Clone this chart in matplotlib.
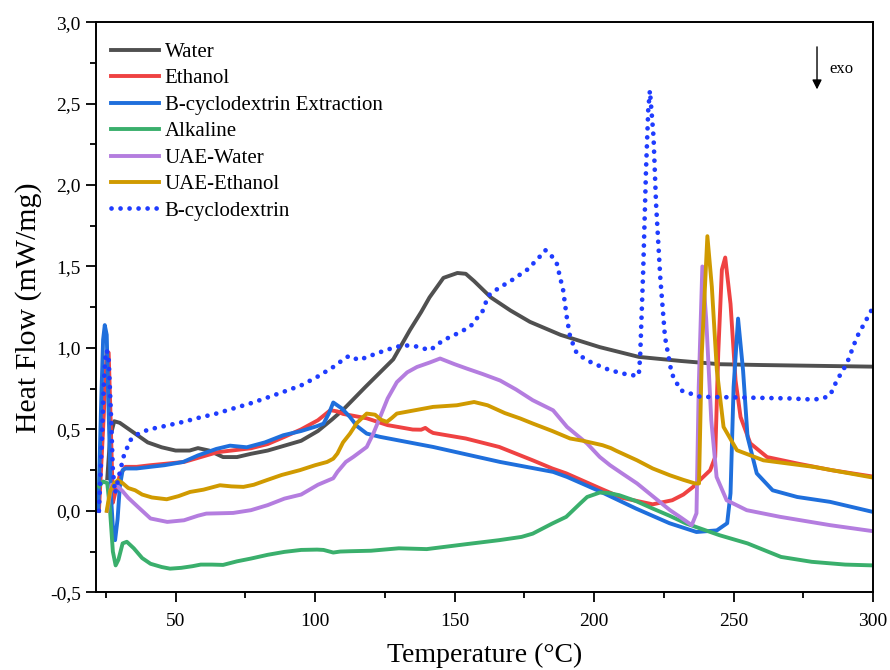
import matplotlib

matplotlib.use("Agg")
import matplotlib.pyplot as plt
from matplotlib.ticker import MultipleLocator, FuncFormatter

plt.rcParams["font.family"] = ["Liberation Serif", "DejaVu Serif"]

# DSC traces, temperature (°C) vs heat flow (mW/mg)
water_t = [25.5, 26.5, 28, 30, 35, 40, 45, 50, 55, 58, 62, 67, 72, 77, 83, 89, 95, 101,
           106, 110, 114, 118, 123, 128, 134, 138, 141, 146, 151, 154, 157, 163, 170,
           177, 188, 202, 216, 231, 245, 260, 280, 300]
water_y = [0.20, 0.45, 0.55, 0.54, 0.48, 0.42, 0.39, 0.37, 0.37, 0.385, 0.37, 0.33, 0.33,
           0.35, 0.37, 0.40, 0.43, 0.49, 0.56, 0.62, 0.69, 0.76, 0.845, 0.93, 1.11, 1.22,
           1.31, 1.43, 1.46, 1.455, 1.41, 1.31, 1.23, 1.16, 1.08, 1.005, 0.945, 0.92,
           0.90, 0.895, 0.89, 0.885]

ethanol_t = [22.5, 24, 25.3, 26.0, 26.8, 27.5, 28.5, 30, 32, 36, 41, 47, 53, 59, 65, 70,
             77, 83, 89, 95, 101, 105.5, 108, 110, 116, 118.5, 126, 135, 138, 139.5, 141,
             142.3, 154, 166, 178, 185, 190, 202, 210, 221, 228, 232, 235.5, 238, 241.6,
             243.4, 244.5, 245.8, 247, 248.9, 250.7, 252.5, 256, 262, 273, 285, 300]
ethanol_y = [0.0, 0.5, 0.98, 0.97, 0.5, 0.05, 0.12, 0.22, 0.27, 0.27, 0.28, 0.29, 0.30,
             0.33, 0.36, 0.37, 0.384, 0.41, 0.454, 0.50, 0.556, 0.618, 0.61, 0.595, 0.576,
             0.568, 0.526, 0.499, 0.498, 0.509, 0.49, 0.478, 0.444, 0.392, 0.31, 0.26,
             0.23, 0.139, 0.08, 0.04, 0.065, 0.1, 0.147, 0.19, 0.249, 0.33, 0.97, 1.48,
             1.555, 1.27, 0.80, 0.576, 0.414, 0.33, 0.29, 0.25, 0.21]

bcd_ext_t = [22.3, 23.2, 24, 24.6, 25.3, 26, 26.8, 27.5, 28.3, 29.2, 30, 31, 32, 36, 40.9,
             46, 52.7, 58, 64.6, 69.5, 75.5, 82, 88.6, 95, 100.7, 103, 105, 106.5, 109.6,
             112.5, 115, 118.5, 123.3, 142.3, 166.3, 185.3, 190.3, 202, 215, 227, 236.7,
             244, 247.7, 248.9, 250, 251.6, 253.4, 255, 258.3, 264, 272.8, 284.6, 300]
bcd_ext_y = [0.0, 0.6, 1.05, 1.14, 1.08, 0.6, 0.1, -0.1, -0.18, -0.05, 0.15, 0.25, 0.26,
             0.26, 0.27, 0.28, 0.30, 0.34, 0.38, 0.40, 0.39, 0.42, 0.464, 0.49, 0.52,
             0.535, 0.60, 0.665, 0.628, 0.576, 0.52, 0.474, 0.454, 0.392, 0.30, 0.239,
             0.208, 0.12, 0.014, -0.076, -0.13, -0.12, -0.076, 0.108, 0.76, 1.18, 0.86,
             0.454, 0.23, 0.126, 0.085, 0.055, -0.007]

alkaline_t = [22.5, 24, 25.5, 26.5, 27.5, 28.5, 29.5, 31, 32.5, 35, 38, 41, 45, 48, 52,
              56, 59, 63, 67, 72, 77, 83, 89, 95, 100.7, 103, 106.5, 109, 112.5, 120,
              130, 140, 154, 166, 174, 178, 185, 190, 195, 197.5, 202, 205, 209, 215,
              221, 227, 233, 240, 245, 255, 267, 278, 290, 300]
alkaline_y = [0.15, 0.18, 0.17, 0.0, -0.25, -0.335, -0.30, -0.20, -0.19, -0.23, -0.29,
              -0.325, -0.345, -0.355, -0.35, -0.34, -0.33, -0.33, -0.332, -0.31, -0.293,
              -0.27, -0.252, -0.24, -0.238, -0.24, -0.256, -0.25, -0.248, -0.245, -0.23,
              -0.235, -0.205, -0.18, -0.16, -0.14, -0.078, -0.037, 0.045, 0.085, 0.112,
              0.11, 0.096, 0.06, 0.014, -0.03, -0.078, -0.12, -0.15, -0.2, -0.283,
              -0.313, -0.33, -0.335]

uae_water_t = [25.5, 27, 28.3, 29.4, 31, 33, 36.5, 41, 47, 53, 58, 61, 66, 70.6, 77, 83,
               89, 95, 101, 106.5, 108, 111, 113.7, 118.5, 121, 123.3, 126, 129.3, 133,
               136.5, 141, 144.8, 150, 154.4, 160, 166.3, 172, 178, 185.3, 190.3, 197.5,
               202, 205.7, 210, 215.4, 221, 227.2, 231, 235, 236.7, 237.5, 238.8, 240.2,
               242, 243.9, 247.5, 254.7, 266.7, 284.6, 300]
uae_water_y = [0.0, 0.16, 0.16, 0.147, 0.12, 0.08, 0.024, -0.047, -0.068, -0.058, -0.03,
               -0.017, -0.015, -0.013, 0.004, 0.035, 0.075, 0.10, 0.16, 0.20, 0.239, 0.3,
               0.331, 0.392, 0.48, 0.576, 0.69, 0.79, 0.85, 0.883, 0.91, 0.935, 0.90,
               0.873, 0.84, 0.80, 0.745, 0.679, 0.617, 0.515, 0.413, 0.331, 0.28, 0.23,
               0.168, 0.09, 0.004, -0.04, -0.088, -0.015, 0.76, 1.50, 1.17, 0.556, 0.208,
               0.065, 0.004, -0.037, -0.088, -0.125]

uae_ethanol_t = [25.3, 26.5, 28, 29.4, 31, 33, 35.5, 38, 41.5, 46.8, 51, 55.2, 60, 65.9,
                 70, 74.3, 78, 82.6, 88, 94.6, 100, 104.3, 106.5, 108, 110, 112.5, 115,
                 118.5, 121.5, 123.5, 125.7, 127.5, 129.3, 135, 142.3, 150.8, 157, 161.8,
                 168, 173.5, 178, 185, 191.4, 196, 203, 206, 208, 215.4, 221, 227.2, 232,
                 236.2, 237.6, 238.6, 240.6, 242.2, 244, 246.4, 251.2, 260.7, 278.6, 300]
uae_ethanol_y = [0.0, 0.12, 0.17, 0.188, 0.17, 0.14, 0.126, 0.10, 0.082, 0.071, 0.09,
                 0.116, 0.13, 0.157, 0.15, 0.147, 0.16, 0.188, 0.22, 0.25, 0.28, 0.30,
                 0.32, 0.352, 0.42, 0.474, 0.54, 0.597, 0.59, 0.56, 0.546, 0.57, 0.597,
                 0.615, 0.638, 0.648, 0.668, 0.648, 0.60, 0.567, 0.536, 0.49, 0.444, 0.43,
                 0.403, 0.385, 0.368, 0.31, 0.26, 0.218, 0.19, 0.168, 0.168, 0.966, 1.686,
                 1.375, 0.863, 0.515, 0.372, 0.31, 0.27, 0.204]

bcd_t = [22.5, 23.5, 24.3, 25, 25.9, 26.8, 27.5, 28.3, 29.5, 31.3, 33.7, 36.7, 40.3, 46,
         52.7, 58, 64.6, 70, 76.7, 82, 88.6, 95, 100.7, 106.5, 111.4, 113, 115.4, 118,
         122, 126, 131.5, 136, 141.2, 145.9, 150, 155.6, 160.2, 162, 166, 170, 176, 180,
         182.5, 184, 186.6, 188.9, 190.2, 191.4, 193.8, 197.4, 199.8, 205.7, 213, 216,
         216.5, 217.6, 218.6, 219.4, 220, 221.3, 222.2, 223.7, 225.4, 227.8, 231, 238,
         254.7, 270, 278.6, 282, 284.6, 287, 290.6, 294.2, 297.8, 300]
bcd_y = [0.0, 0.4, 0.8, 0.985, 0.97, 0.6, 0.25, 0.108, 0.2, 0.331, 0.433, 0.474, 0.499,
         0.52, 0.546, 0.57, 0.597, 0.625, 0.659, 0.69, 0.73, 0.77, 0.822, 0.883, 0.945,
         0.95, 0.925, 0.94, 0.966, 0.99, 1.017, 1.01, 0.986, 1.047, 1.08, 1.13, 1.23, 1.32,
         1.37, 1.41, 1.48, 1.55, 1.6, 1.583, 1.52, 1.354, 1.19, 1.067, 0.966, 0.925, 0.904,
         0.863, 0.832, 0.832, 0.945, 1.477, 2.09, 2.46, 2.58, 2.295, 1.886, 1.436, 1.067,
         0.843, 0.74, 0.70, 0.695, 0.69, 0.683, 0.69, 0.71, 0.80, 0.904, 1.067, 1.18, 1.25]

series = [
    ("Water", water_t, water_y, "#505050"),
    ("Ethanol", ethanol_t, ethanol_y, "#ef4242"),
    ("B-cyclodextrin Extraction", bcd_ext_t, bcd_ext_y, "#1f6fdc"),
    ("Alkaline", alkaline_t, alkaline_y, "#3aaf6c"),
    ("UAE-Water", uae_water_t, uae_water_y, "#b47ddf"),
    ("UAE-Ethanol", uae_ethanol_t, uae_ethanol_y, "#d09a00"),
]

fig = plt.figure(figsize=(8.9, 6.7), dpi=100)
ax = fig.add_axes([0.108, 0.116, 0.873, 0.851])

for name, t, y, color in series:
    ax.plot(t, y, color=color, lw=2.8, label=name, solid_joinstyle="round")
ax.plot(bcd_t, bcd_y, color="#1f3cff", lw=3.4, dashes=(0.01, 1.9),
        dash_capstyle="round", label="B-cyclodextrin")

ax.set_xlim(21.5, 300)
ax.set_ylim(-0.5, 3.0)
ax.xaxis.set_major_locator(MultipleLocator(50))
ax.xaxis.set_minor_locator(MultipleLocator(25))
ax.yaxis.set_major_locator(MultipleLocator(0.5))
ax.yaxis.set_minor_locator(MultipleLocator(0.25))
ax.yaxis.set_major_formatter(FuncFormatter(lambda v, p: f"{v:.1f}".replace(".", ",")))
ax.tick_params(which="major", direction="out", length=7, width=1.3, labelsize=14, pad=4)
ax.tick_params(which="minor", direction="out", length=4, width=1.3)
ax.tick_params(axis="x", pad=8)
for sp in ax.spines.values():
    sp.set_linewidth(1.4)

ax.set_xlabel("Temperature (°C)", fontsize=20, labelpad=9)
ax.set_ylabel("Heat Flow (mW/mg)", fontsize=21.5, labelpad=6)

ax.legend(loc="upper left", frameon=False, fontsize=15, handlelength=2.3,
          handletextpad=0.3, labelspacing=0.33, borderaxespad=0.3,
          bbox_to_anchor=(0.0, 0.99))

# exothermic direction marker
ax.annotate("", xy=(279.9, 2.57), xytext=(279.9, 2.865),
            arrowprops=dict(arrowstyle="-|>", color="black", lw=1.0, mutation_scale=14))
ax.text(284.5, 2.71, "exo", fontsize=12, va="center", ha="left")

fig.savefig("out.png", dpi=100)
